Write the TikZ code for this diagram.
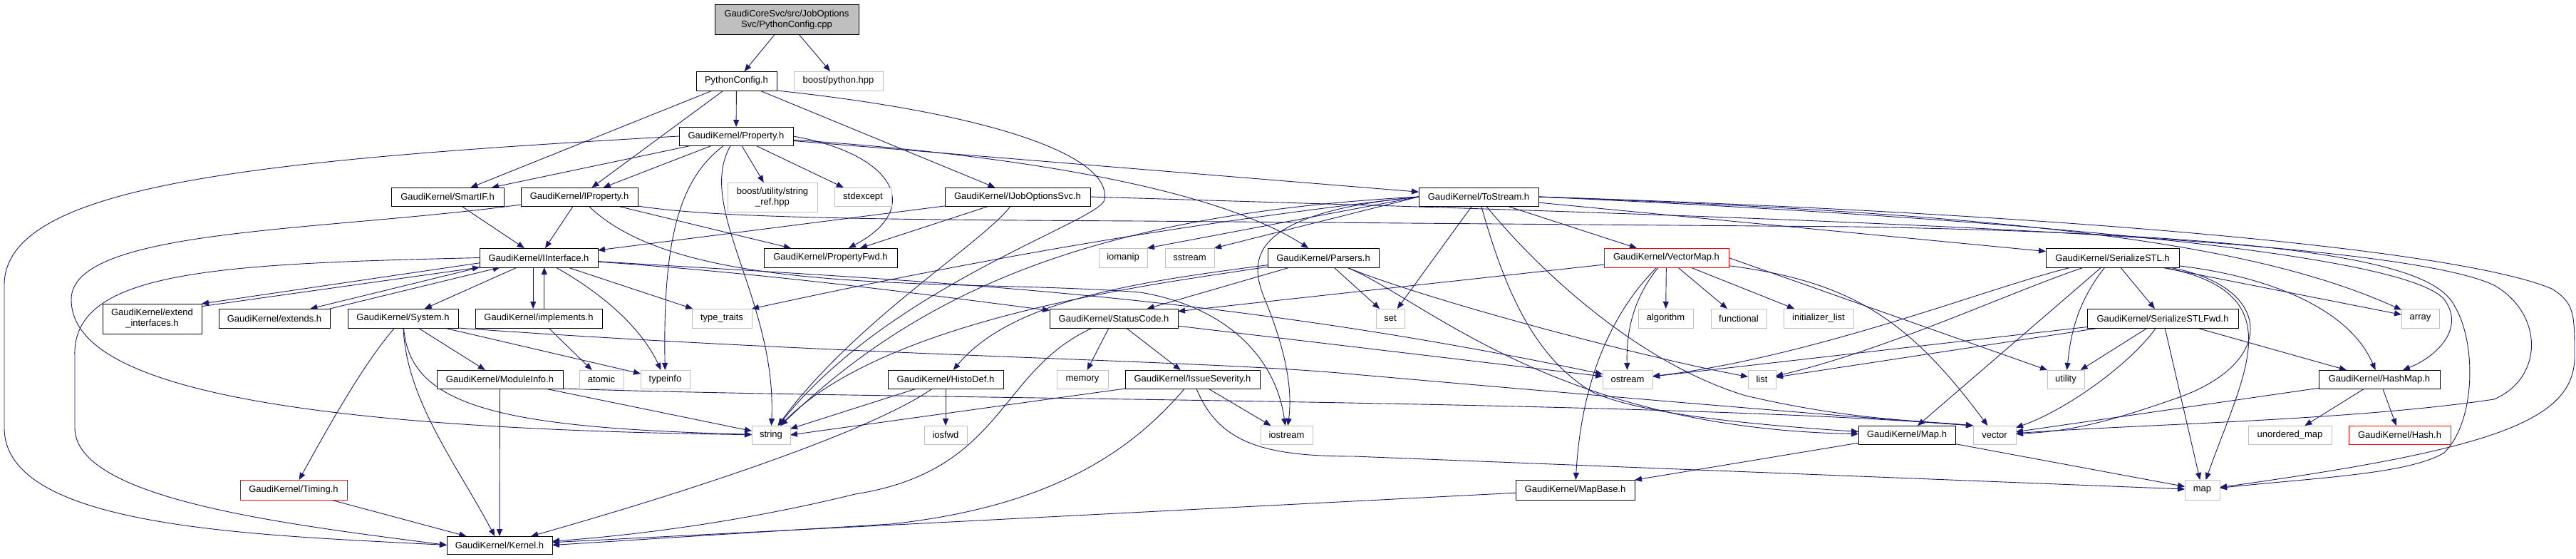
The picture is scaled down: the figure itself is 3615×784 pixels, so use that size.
\documentclass[tikz,border=0pt]{standalone}
\usepackage{fontspec}
\setmainfont{Liberation Sans}
\usetikzlibrary{arrows.meta}
\definecolor{edgeblue}{HTML}{191970}
\definecolor{boxgray}{HTML}{BFBFBF}
\newcommand\dfont{\fontsize{13bp}{15bp}\selectfont}
\newcommand\dnode[7]{\node[#6, minimum width={(#4-#2)*1.00375pt}, minimum height={(#5-#3)*1.00375pt}] (#1) at ({(#2+#4)/2},{(#3+#5)/2}) {#7};}
\pgfdeclarelayer{bg}
\pgfdeclarelayer{edges}
\pgfsetlayers{bg,edges,main}
\begin{document}
\begin{tikzpicture}[x=1bp,y=-1bp,
  bx/.style={draw=black, fill=white, line width=1bp, inner sep=0pt, outer sep=0pt, font=\dfont, align=center},
  gx/.style={bx, draw=boxgray},
  rx/.style={bx, draw=red},
  rootx/.style={bx, fill=boxgray},
  e/.style={draw=edgeblue, line width=0.9bp, -{Triangle[length=10bp,width=8bp]}},
]
\useasboundingbox (0,0) rectangle (3615,784);
\begin{pgfonlayer}{bg}
\fill[white] (0,0) rectangle (3615,784);
\end{pgfonlayer}
% ---------------- nodes
\dnode{root}{1003}{7}{1205}{49}{rootx}{GaudiCoreSvc/src/JobOptions\\Svc/PythonConfig.cpp}
\dnode{pyconf}{977}{100}{1090}{127}{bx}{PythonConfig.h}
\dnode{boostpy}{1114}{100}{1239}{127}{gx}{boost/python.hpp}
\dnode{property}{953}{178}{1113}{204}{bx}{GaudiKernel/Property.h}
\dnode{smartif}{549}{263}{707}{289}{bx}{GaudiKernel/SmartIF.h}
\dnode{iproperty}{731}{263}{895}{289}{bx}{GaudiKernel/IProperty.h}
\dnode{strref}{1021}{256}{1147}{297}{gx}{boost/utility/string\\\_ref.hpp}
\dnode{stdexcept}{1171}{263}{1251}{289}{gx}{stdexcept}
\dnode{ijob}{1326}{263}{1530}{289}{bx}{GaudiKernel/IJobOptionsSvc.h}
\dnode{tostream}{1991}{263}{2159}{289}{bx}{GaudiKernel/ToStream.h}
\dnode{iinterface}{673}{348}{839}{375}{bx}{GaudiKernel/IInterface.h}
\dnode{propfwd}{1072}{348}{1259}{375}{bx}{GaudiKernel/PropertyFwd.h}
\dnode{iomanip}{1542}{348}{1610}{375}{gx}{iomanip}
\dnode{sstream}{1635}{348}{1704}{375}{gx}{sstream}
\dnode{parsers}{1779}{348}{1935}{375}{bx}{GaudiKernel/Parsers.h}
\dnode{vectormap}{2251}{348}{2426}{375}{rx}{GaudiKernel/VectorMap.h}
\dnode{serstl}{2871}{348}{3058}{375}{bx}{GaudiKernel/SerializeSTL.h}
\dnode{extint}{144}{426}{283}{468}{bx}{GaudiKernel/extend\\\_interfaces.h}
\dnode{extends}{307}{433}{463}{460}{bx}{GaudiKernel/extends.h}
\dnode{system}{488}{433}{643}{460}{bx}{GaudiKernel/System.h}
\dnode{implements}{667}{433}{845}{460}{bx}{GaudiKernel/implements.h}
\dnode{typetraits}{971}{433}{1055}{460}{gx}{type\_traits}
\dnode{statuscode}{1473}{433}{1653}{460}{bx}{GaudiKernel/StatusCode.h}
\dnode{set}{1931}{433}{1971}{460}{gx}{set}
\dnode{algorithm}{2299}{433}{2376}{460}{gx}{algorithm}
\dnode{functional}{2401}{433}{2479}{460}{gx}{functional}
\dnode{initlist}{2503}{433}{2601}{460}{gx}{initializer\_list}
\dnode{serstlfwd}{2929}{433}{3141}{460}{bx}{GaudiKernel/SerializeSTLFwd.h}
\dnode{array}{3370}{433}{3423}{460}{gx}{array}
\dnode{moduleinfo}{613}{519}{790}{545}{bx}{GaudiKernel/ModuleInfo.h}
\dnode{atomic}{813}{519}{875}{545}{gx}{atomic}
\dnode{typeinfo}{899}{519}{968}{545}{gx}{typeinfo}
\dnode{histodef}{1246}{519}{1408}{545}{bx}{GaudiKernel/HistoDef.h}
\dnode{memory}{1483}{519}{1555}{545}{gx}{memory}
\dnode{issuesev}{1579}{519}{1768}{545}{bx}{GaudiKernel/IssueSeverity.h}
\dnode{ostream}{2249}{519}{2319}{545}{gx}{ostream}
\dnode{list}{2453}{519}{2492}{545}{gx}{list}
\dnode{utility}{2873}{519}{2925}{545}{gx}{utility}
\dnode{hashmap}{3254}{519}{3424}{545}{bx}{GaudiKernel/HashMap.h}
\dnode{string}{1055}{597}{1109}{623}{gx}{string}
\dnode{iosfwd}{1297}{597}{1357}{623}{gx}{iosfwd}
\dnode{iostream}{1769}{597}{1842}{623}{gx}{iostream}
\dnode{gkmap}{2608}{597}{2744}{623}{bx}{GaudiKernel/Map.h}
\dnode{vector}{2769}{597}{2829}{623}{gx}{vector}
\dnode{unordmap}{3155}{597}{3272}{623}{gx}{unordered\_map}
\dnode{hash}{3296}{597}{3439}{623}{rx}{GaudiKernel/Hash.h}
\dnode{timing}{337}{673}{487}{701}{rx}{GaudiKernel/Timing.h}
\dnode{mapbase}{2127}{673}{2294}{701}{bx}{GaudiKernel/MapBase.h}
\dnode{map}{3066}{673}{3115}{701}{gx}{map}
\dnode{kernel}{627}{752}{775}{777}{bx}{GaudiKernel/Kernel.h}
% ---------------- edges
\begin{pgfonlayer}{edges}
% root
\draw[e] (root) -- (pyconf);
\draw[e] (root) -- (boostpy);
% PythonConfig.h
\draw[e] (pyconf) -- (property);
\draw[e] (pyconf) -- (smartif);
\draw[e] (pyconf) -- (iproperty);
\draw[e] (pyconf) -- (ijob);
\draw[e] (pyconf.south east) .. controls (1400,160) and (1560,220) .. (1550,280) .. controls (1545,310) and (1250,400) .. (string);
% Property.h
\draw[e] (property.west) .. controls (350,225) and (6,260) .. (6,400) -- (6,600) .. controls (6,740) and (350,750) .. (kernel.west);
\draw[e] (property) -- (smartif);
\draw[e] (property) -- (iproperty);
\draw[e] (property) .. controls (955,250) and (930,330) .. (typeinfo);
\draw[e] (property) .. controls (975,290) and (1090,420) .. (string);
\draw[e] (property) -- (strref);
\draw[e] (property) -- (stdexcept);
\draw[e] (property.east) .. controls (1250,215) and (1300,290) .. (propfwd);
\draw[e] (property) -- (tostream);
\draw[e] (property) .. controls (1400,215) and (1700,260) .. (parsers);
% SmartIF.h
\draw[e] (smartif) -- (iinterface);
% IProperty.h
\draw[e] (iproperty) -- (iinterface);
\draw[e] (iproperty) -- (propfwd);
\draw[e] (iproperty) .. controls (450,325) and (100,320) .. (100,420) .. controls (100,520) and (300,600) .. (string);
\draw[e] (iproperty) .. controls (960,420) and (1350,390) .. (1600,410) .. controls (1720,430) and (1790,500) .. (iostream);
\draw[e] (iproperty.south east) .. controls (1000,305) and (1200,308) .. (1600,310) -- (2600,318) .. controls (3300,330) and (3420,380) .. (3445,430) .. controls (3475,480) and (3475,590) .. (3430,635) .. controls (3380,665) and (3250,670) .. (map);
% IJobOptionsSvc.h
\draw[e] (ijob) -- (iinterface);
\draw[e] (ijob) -- (propfwd);
\draw[e] (ijob) .. controls (1380,340) and (1200,450) .. (string);
\draw[e] (ijob.east) .. controls (2500,305) and (3350,330) .. (3500,400) .. controls (3570,440) and (3570,530) .. (3500,560) .. controls (3300,590) and (3000,595) .. (vector);
% IInterface.h
\draw[e] (iinterface.west) .. controls (300,370) and (100,380) .. (105,500) -- (105,600) .. controls (105,700) and (400,735) .. (kernel.west);
\draw[e] (iinterface.185) -- (extint.north east);
\draw[e] (extint.14) -- (iinterface.south west);
\draw[e] (iinterface.south west) -- (extends.15);
\draw[e] (extends.north east) -- (iinterface.194);
\draw[e] (iinterface.240) -- (implements.120);
\draw[e] (implements.60) -- (iinterface.300);
\draw[e] (iinterface) -- (system);
\draw[e] (iinterface) .. controls (860,420) and (905,470) .. (typeinfo);
\draw[e] (iinterface) -- (typetraits);
\draw[e] (iinterface) .. controls (1100,385) and (1350,420) .. (statuscode);
\draw[e] (iinterface) .. controls (1300,395) and (1700,410) .. (ostream);
\draw[e] (implements) -- (atomic);
% System.h
\draw[e] (system) .. controls (510,510) and (460,600) .. (timing);
\draw[e] (system) .. controls (570,560) and (640,650) .. (kernel);
\draw[e] (system) -- (moduleinfo);
\draw[e] (system) -- (typeinfo);
\draw[e] (system) .. controls (575,570) and (700,600) .. (string);
\draw[e] (system.south east) .. controls (1200,500) and (1700,505) .. (1900,525) .. controls (2300,560) and (2600,585) .. (vector.north west);
% ModuleInfo.h
\draw[e] (moduleinfo) -- (kernel);
\draw[e] (moduleinfo) -- (string);
\draw[e] (moduleinfo.south east) .. controls (1200,560) and (2300,560) .. (vector.north west);
% Timing.h
\draw[e] (timing) -- (kernel);
% ToStream.h
\draw[e] (tostream.west) -- (iomanip.north east);
\draw[e] (tostream.west) -- (sstream.north east);
\draw[e] (tostream.west) .. controls (1600,320) and (1300,380) .. (typetraits.north east);
\draw[e] (tostream.west) .. controls (1550,300) and (1300,400) .. (string);
\draw[e] (tostream) -- (set);
\draw[e] (tostream.west) .. controls (1740,300) and (1755,370) .. (1775,420) .. controls (1800,480) and (1815,540) .. (iostream);
\draw[e] (tostream) .. controls (2110,400) and (2150,500) .. (2235,550) .. controls (2300,580) and (2450,595) .. (gkmap);
\draw[e] (tostream) .. controls (2160,380) and (2300,510) .. (2450,555) .. controls (2600,590) and (2700,590) .. (vector.north west);
\draw[e] (tostream) -- (vectormap);
\draw[e] (tostream) -- (serstl);
\draw[e] (tostream.east) .. controls (2900,310) and (3380,360) .. (3430,420) .. controls (3460,460) and (3420,500) .. (hashmap);
\draw[e] (tostream.east) .. controls (2800,300) and (3150,335) .. (array);
\draw[e] (tostream.east) .. controls (2900,300) and (3450,350) .. (3581,405) .. controls (3613,425) and (3613,440) .. (3613,500) .. controls (3613,590) and (3500,630) .. (map);
% Parsers.h
\draw[e] (parsers) -- (statuscode);
\draw[e] (parsers) .. controls (1600,395) and (1420,420) .. (histodef);
\draw[e] (parsers) .. controls (1650,395) and (1250,440) .. (string);
\draw[e] (parsers) -- (set);
\draw[e] (parsers) .. controls (2000,420) and (2300,500) .. (list);
\draw[e] (parsers) .. controls (2000,420) and (2180,600) .. (gkmap);
% VectorMap.h
\draw[e] (vectormap) -- (algorithm);
\draw[e] (vectormap) -- (functional);
\draw[e] (vectormap) -- (initlist);
\draw[e] (vectormap) .. controls (2290,420) and (2282,470) .. (ostream);
\draw[e] (vectormap.east) -- (utility.north west);
\draw[e] (vectormap) .. controls (2600,395) and (2680,450) .. (vector);
\draw[e] (vectormap) .. controls (2270,430) and (2220,520) .. (mapbase);
\draw[e] (vectormap) -- (statuscode);
% StatusCode.h
\draw[e] (statuscode) -- (memory);
\draw[e] (statuscode) -- (issuesev);
\draw[e] (statuscode) .. controls (1400,520) and (1410,660) .. (1200,693) .. controls (1050,730) and (900,750) .. (kernel);
\draw[e] (statuscode) -- (ostream);
% HistoDef.h
\draw[e] (histodef) -- (iosfwd);
\draw[e] (histodef) -- (string);
\draw[e] (histodef) .. controls (1230,600) and (1000,680) .. (kernel);
% IssueSeverity.h
\draw[e] (issuesev) .. controls (1590,630) and (1480,710) .. (1250,735) .. controls (1000,750) and (850,760) .. (kernel.east);
\draw[e] (issuesev.south west) -- (string.east);
\draw[e] (issuesev) -- (iostream);
\draw[e] (issuesev) .. controls (1710,620) and (1770,640) .. (1900,640) -- (map);
% MapBase.h / Map.h
\draw[e] (mapbase) -- (kernel);
\draw[e] (gkmap) -- (mapbase);
\draw[e] (gkmap) -- (map);
% HashMap.h
\draw[e] (hashmap) -- (unordmap);
\draw[e] (hashmap) -- (hash);
\draw[e] (hashmap) -- (vector);
% SerializeSTL.h
\draw[e] (serstl) -- (serstlfwd);
\draw[e] (serstl) .. controls (2800,400) and (2550,500) .. (ostream);
\draw[e] (serstl) .. controls (2820,410) and (2650,490) .. (list);
\draw[e] (serstl) .. controls (2910,430) and (2905,480) .. (utility);
\draw[e] (serstl) .. controls (3190,400) and (3200,510) .. (3050,560) .. controls (2950,595) and (2900,605) .. (vector);
\draw[e] (serstl) -- (gkmap);
\draw[e] (serstl) .. controls (3220,410) and (3150,520) .. (map);
\draw[e] (serstl) -- (array);
\draw[e] (serstl) .. controls (3200,390) and (3300,440) .. (hashmap);
% SerializeSTLFwd.h
\draw[e] (serstlfwd) -- (list);
\draw[e] (serstlfwd) -- (ostream);
\draw[e] (serstlfwd) -- (utility);
\draw[e] (serstlfwd) .. controls (2990,510) and (2900,575) .. (vector);
\draw[e] (serstlfwd) -- (map);
\draw[e] (serstlfwd) -- (hashmap);
\end{pgfonlayer}
\end{tikzpicture}
\end{document}
